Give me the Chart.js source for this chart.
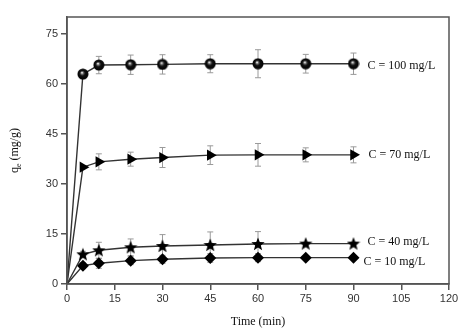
<!DOCTYPE html>
<html lang="en">
<head>
<meta charset="UTF-8">
<title>Adsorption kinetics</title>
<script src="https://cdn.jsdelivr.net/npm/chart.js@4.4.1/dist/chart.umd.min.js"></script>
<style>
    html, body { margin: 0; padding: 0; background: #fff; }
    #wrap { width: 463px; height: 333px; position: relative; }
</style>
</head>
<body>
<div id="wrap"><canvas id="kinetics" width="463" height="333"></canvas></div>
<script>
    // data
    const times = [0, 5, 10, 20, 30, 45, 60, 75, 90];
    const seriesNames = ['C = 100 mg/L', 'C = 70 mg/L', 'C = 40 mg/L', 'C = 10 mg/L'];
    const q100 = [0, 62.9, 65.6, 65.7, 65.8, 66.0, 66.0, 66.0, 66.0];
    const q70 = [0, 35.0, 36.6, 37.4, 37.9, 38.6, 38.7, 38.7, 38.7];
    const q40 = [0, 8.9, 10.1, 11.0, 11.4, 11.7, 12.0, 12.1, 12.1];
    const q10 = [0, 5.5, 6.2, 7.0, 7.4, 7.8, 7.9, 7.9, 7.9];
    const err100 = [0, 0, 2.6, 2.9, 2.9, 2.7, 4.2, 2.8, 3.2];
    const err70 = [0, 0, 2.4, 2.1, 3.0, 2.8, 3.4, 2.1, 2.4];
    const err40 = [0, 0.9, 2.4, 2.5, 3.4, 3.9, 3.7, 0, 0];
    const err10 = [0, 0.9, 1.5, 1.2, 1.2, 1.3, 1.2, 0, 0];
    const xTicks = [0, 15, 30, 45, 60, 75, 90, 105, 120];
    const yTicks = [0, 15, 30, 45, 60, 75];

    function sphereMarker() {
        const c = document.createElement('canvas');
        c.width = 12; c.height = 12;
        const g = c.getContext('2d');
        const grad = g.createRadialGradient(5, 4.5, 0.3, 6, 6, 5.5);
        grad.addColorStop(0, '#ffffff');
        grad.addColorStop(0.18, '#777');
        grad.addColorStop(0.45, '#111');
        grad.addColorStop(1, '#000');
        g.fillStyle = grad;
        g.beginPath();
        g.arc(6, 6, 5.5, 0, Math.PI * 2);
        g.fill();
        return c;
    }

    function starMarker() {
        const c = document.createElement('canvas');
        c.width = 14; c.height = 14;
        const g = c.getContext('2d');
        g.fillStyle = '#000';
        g.beginPath();
        for (let i = 0; i < 10; i++) {
            const r = i % 2 === 0 ? 7 : 3;
            const a = -Math.PI / 2 + i * Math.PI / 5;
            const px = 7 + r * Math.cos(a), py = 7.5 + r * Math.sin(a);
            if (i === 0) g.moveTo(px, py); else g.lineTo(px, py);
        }
        g.closePath();
        g.fill();
        return c;
    }

    function toPoints(vals) {
        return times.map((t, i) => ({ x: t, y: vals[i] }));
    }

    const errs = [err100, err70, err40, err10];

    const errorBars = {
        id: 'errorBars',
        beforeDatasetsDraw(chart) {
            const { ctx, scales: { x, y } } = chart;
            ctx.save();
            ctx.strokeStyle = '#9a9a9a';
            ctx.lineWidth = 1;
            chart.data.datasets.forEach((ds, di) => {
                ds.data.forEach((p, i) => {
                    const e = errs[di][i];
                    if (!e) return;
                    const px = x.getPixelForValue(p.x);
                    const top = y.getPixelForValue(p.y + e);
                    const bot = y.getPixelForValue(p.y - e);
                    ctx.beginPath();
                    ctx.moveTo(px, top); ctx.lineTo(px, bot);
                    ctx.moveTo(px - 3, top); ctx.lineTo(px + 3, top);
                    ctx.moveTo(px - 3, bot); ctx.lineTo(px + 3, bot);
                    ctx.stroke();
                });
            });
            ctx.restore();
        }
    };

    const labelOffsets = [[14, 2], [15, 0], [14, -2], [10, 4]];

    const decorations = {
        id: 'decorations',
        afterDraw(chart) {
            const { ctx, chartArea: a, scales: { x, y } } = chart;
            ctx.save();
            // frame
            ctx.strokeStyle = '#555';
            ctx.lineWidth = 1.5;
            ctx.strokeRect(a.left, a.top, a.right - a.left, a.bottom - a.top);

            // series labels
            ctx.fillStyle = '#111';
            ctx.font = '12px "Liberation Serif", serif';
            ctx.textBaseline = 'middle';
            ctx.textAlign = 'left';
            chart.data.datasets.forEach((ds, di) => {
                const last = ds.data[ds.data.length - 1];
                ctx.fillText(seriesNames[di],
                    x.getPixelForValue(last.x) + labelOffsets[di][0],
                    y.getPixelForValue(last.y) + labelOffsets[di][1]);
            });

            // y title with subscript
            ctx.translate(15, (a.top + a.bottom) / 2);
            ctx.rotate(-Math.PI / 2);
            ctx.textAlign = 'left';
            ctx.font = '12px "Liberation Serif", serif';
            const w1 = ctx.measureText('q').width;
            ctx.font = '8px "Liberation Serif", serif';
            const w2 = ctx.measureText('e').width;
            ctx.font = '12px "Liberation Serif", serif';
            const w3 = ctx.measureText(' (mg/g)').width;
            let sx = -(w1 + w2 + w3) / 2;
            ctx.fillText('q', sx, 0);
            ctx.font = '8px "Liberation Serif", serif';
            ctx.fillText('e', sx + w1, 4);
            ctx.font = '12px "Liberation Serif", serif';
            ctx.fillText(' (mg/g)', sx + w1 + w2, 0);
            ctx.restore();
        }
    };

    const lineColor = '#333';

    function makeSet(label, vals, style, radius, rot) {
        return {
            label: label,
            data: toPoints(vals),
            borderColor: lineColor,
            borderWidth: 1.4,
            backgroundColor: '#000',
            pointBackgroundColor: '#000',
            pointBorderColor: '#000',
            pointBorderWidth: 0,
            pointStyle: style,
            // no marker at the origin
            pointRadius: (c) => (c.dataIndex === 0 ? 0 : radius),
            rotation: rot || 0,
            tension: 0,
            clip: false
        };
    }

    new Chart(document.getElementById('kinetics'), {
        type: 'line',
        data: {
            datasets: [
                makeSet(seriesNames[0], q100, sphereMarker(), 5.5),
                makeSet(seriesNames[1], q70, 'triangle', 6.5, 90),
                makeSet(seriesNames[2], q40, starMarker(), 6),
                makeSet(seriesNames[3], q10, 'rectRot', 6)
            ]
        },
        options: {
            responsive: false,
            animation: false,
            layout: { padding: { left: 0, right: 14, top: 17, bottom: 0 } },
            plugins: {
                legend: { display: false },
                tooltip: { enabled: false }
            },
            scales: {
                x: {
                    type: 'linear',
                    min: 0,
                    max: 120,
                    afterBuildTicks: (s) => { s.ticks = xTicks.map(v => ({ value: v })); },
                    afterFit: (s) => { s.height = 49; },
                    grid: { drawOnChartArea: false, tickLength: 6, color: '#555', lineWidth: 1.5 },
                    border: { color: '#555', width: 1.5 },
                    ticks: { color: '#333', font: { family: '"Liberation Sans", Arial', size: 11 }, padding: 2 },
                    title: {
                        display: true,
                        text: 'Time (min)',
                        color: '#111',
                        font: { family: '"Liberation Serif", serif', size: 12 },
                        padding: { top: 0, bottom: 4 }
                    }
                },
                y: {
                    type: 'linear',
                    min: 0,
                    max: 80,
                    afterBuildTicks: (s) => { s.ticks = yTicks.map(v => ({ value: v })); },
                    afterFit: (s) => { s.width = 67; },
                    grid: { drawOnChartArea: false, tickLength: 6, color: '#555', lineWidth: 1.5 },
                    border: { color: '#555', width: 1.5 },
                    ticks: { color: '#333', font: { family: '"Liberation Sans", Arial', size: 11 }, padding: 3 }
                }
            }
        },
        plugins: [errorBars, decorations]
    });
</script>
</body>
</html>
